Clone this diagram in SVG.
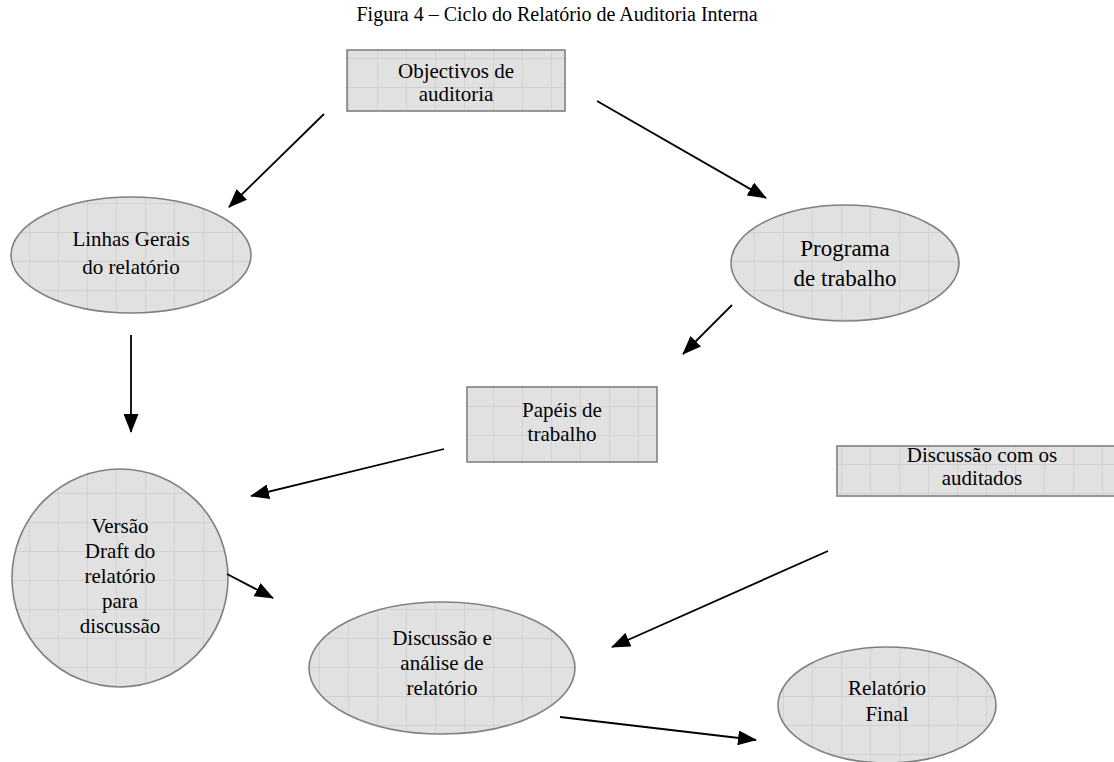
<svg xmlns="http://www.w3.org/2000/svg" width="1114" height="762" viewBox="0 0 1114 762">
<style>
.node{fill:url(#grid);stroke:#808080;stroke-width:1.6}
.t{font-family:"Liberation Serif","Times New Roman",serif;font-size:21px;fill:#000;text-anchor:middle}
.title{font-family:"Liberation Serif","Times New Roman",serif;font-size:20px;fill:#000;text-anchor:middle}
.c{stroke:#000;stroke-width:1.8;fill:none;marker-end:url(#ah)}
</style>
<defs>
<pattern id="grid" patternUnits="userSpaceOnUse" width="29" height="29">
<rect width="29" height="29" fill="#e1e1e1"/>
<path d="M0 0.5H29M0.5 0V29" stroke="#d2d2d2" stroke-width="1"/>
</pattern>
<marker id="ah" markerWidth="19" markerHeight="15" refX="18" refY="7.5" orient="auto" markerUnits="userSpaceOnUse">
<path d="M0 0L19 7.5L0 15Z" fill="#000"/>
</marker>
</defs>
<rect width="1114" height="762" fill="#fff"/>
<text class="title" x="557" y="21">Figura 4 – Ciclo do Relatório de Auditoria Interna</text>
<g id="objectivos">
<rect class="node" x="347" y="50" width="218" height="61"/>
<text class="t" x="456" y="78">Objectivos de</text>
<text class="t" x="456" y="101">auditoria</text>
</g>
<g id="linhas">
<ellipse class="node" cx="131" cy="255" rx="120" ry="58"/>
<text class="t" x="131" y="246">Linhas Gerais</text>
<text class="t" x="131" y="274">do relatório</text>
</g>
<g id="programa">
<ellipse class="node" cx="845" cy="263" rx="114" ry="58"/>
<text class="t" x="845" y="256" style="font-size:23px">Programa</text>
<text class="t" x="845" y="286" style="font-size:23px">de trabalho</text>
</g>
<g id="papeis">
<rect class="node" x="467" y="387" width="190" height="75"/>
<text class="t" x="562" y="417">Papéis de</text>
<text class="t" x="562" y="441">trabalho</text>
</g>
<g id="auditados">
<rect class="node" x="837" y="446" width="280" height="50"/>
<text class="t" x="982" y="462">Discussão com os</text>
<text class="t" x="982" y="485">auditados</text>
</g>
<g id="draft">
<ellipse class="node" cx="120" cy="578" rx="108" ry="109"/>
<text class="t" x="120" y="533">Versão</text>
<text class="t" x="120" y="558">Draft do</text>
<text class="t" x="120" y="583">relatório</text>
<text class="t" x="120" y="608">para</text>
<text class="t" x="120" y="633">discussão</text>
</g>
<g id="discussao">
<ellipse class="node" cx="442" cy="668" rx="133" ry="66"/>
<text class="t" x="442" y="645">Discussão e</text>
<text class="t" x="442" y="670">análise de</text>
<text class="t" x="442" y="695">relatório</text>
</g>
<g id="final">
<ellipse class="node" cx="887" cy="705" rx="109" ry="58"/>
<text class="t" x="887" y="695">Relatório</text>
<text class="t" x="887" y="721">Final</text>
</g>
<g id="connectors">
<line class="c" x1="324" y1="114" x2="229" y2="207"/>
<line class="c" x1="597" y1="101" x2="766" y2="198"/>
<line class="c" x1="131" y1="335" x2="131" y2="432"/>
<line class="c" x1="732" y1="305" x2="683" y2="354"/>
<line class="c" x1="444" y1="449" x2="251" y2="496"/>
<line class="c" x1="828" y1="551" x2="612" y2="647"/>
<line class="c" x1="227" y1="574" x2="273" y2="598"/>
<line class="c" x1="560" y1="717" x2="756" y2="740"/>
</g>
</svg>
